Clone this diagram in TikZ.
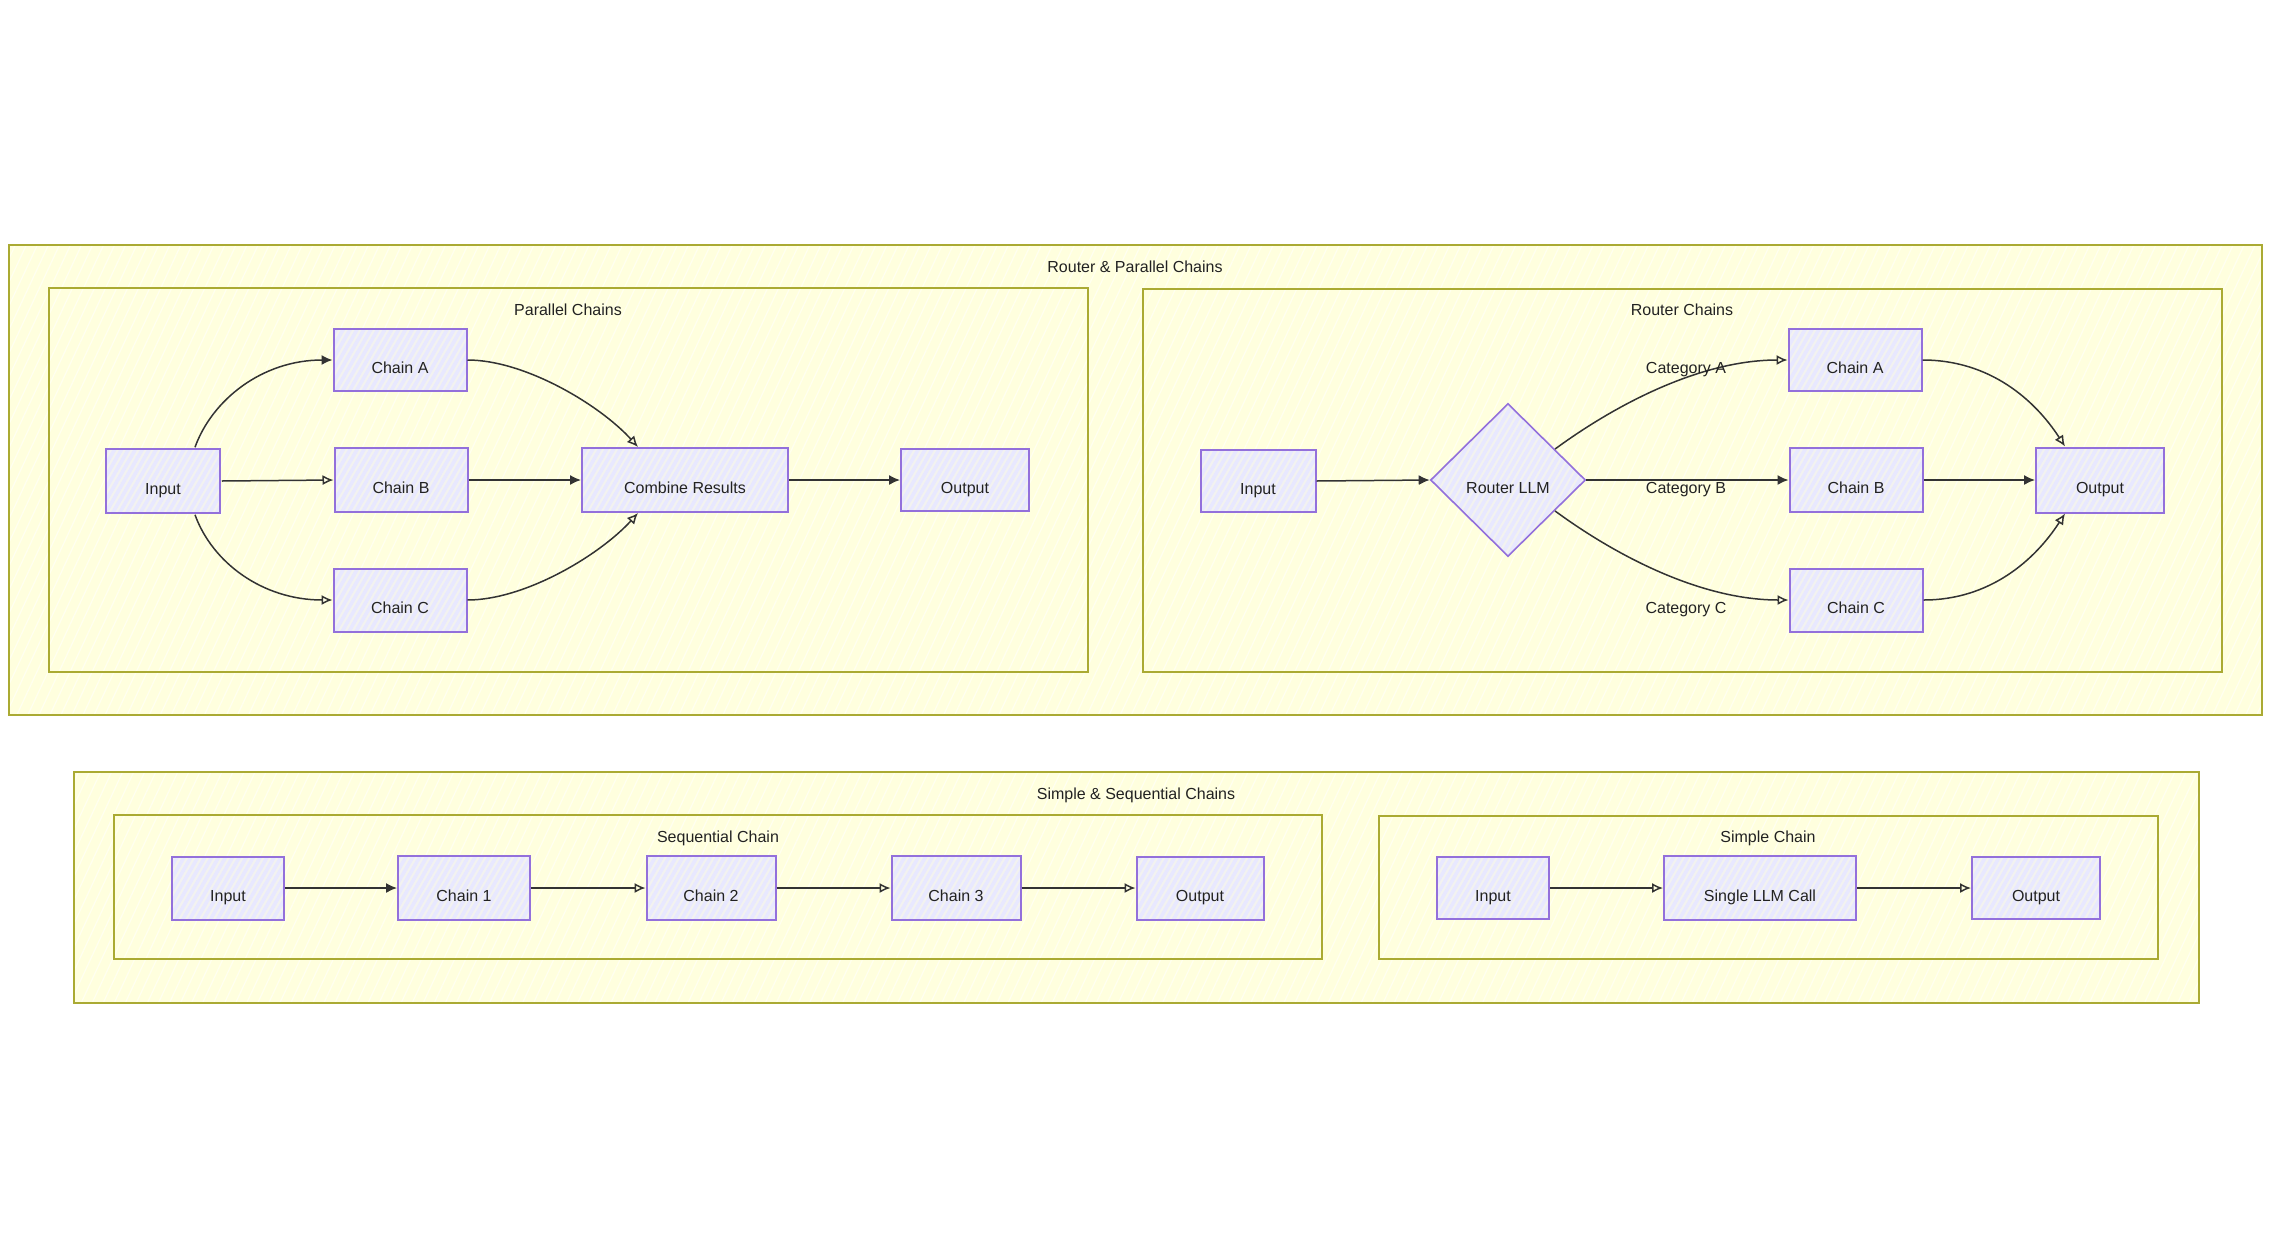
\documentclass[tikz,border=0pt]{standalone}
\usepackage{fontspec}
\setmainfont{Liberation Sans}
\usetikzlibrary{arrows.meta,shapes.geometric,calc,patterns.meta}
\definecolor{clfill}{HTML}{FFFFDE}
\definecolor{clline}{HTML}{AAAA33}
\definecolor{ndline}{HTML}{9370DB}
\definecolor{ndfill}{HTML}{E8E8FF}
\definecolor{ndbase}{HTML}{F2F2F0}
\definecolor{edgecol}{HTML}{333333}
\definecolor{txtcol}{HTML}{222222}
\begin{document}
\begin{tikzpicture}[x=1pt,y=1pt,
  lbl/.style={text=txtcol, font=\fontsize{16}{19}\selectfont},
  cluster/.style={draw=clline, line width=2pt, preaction={fill=clfill},
    pattern={Lines[angle=65,distance=10pt,line width=1.2pt]}, pattern color=white!55!clfill},
  ttl/.style={lbl, anchor=base, inner sep=0pt},
  box/.style={rectangle, draw=ndline, line width=2pt, preaction={fill=ndbase},
    pattern={Lines[angle=60,distance=6pt,line width=3.5pt]}, pattern color=ndfill,
    inner sep=0pt, lbl, text height=26pt, text depth=0pt},
  dia/.style={diamond, aspect=1, draw=ndline, line width=1.6pt, preaction={fill=ndbase},
    pattern={Lines[angle=60,distance=6pt,line width=3.5pt]}, pattern color=ndfill,
    inner sep=0pt, minimum width=155pt, minimum height=153pt, lbl, text height=26pt, text depth=0pt},
  elab/.style={lbl, inner sep=0pt, text height=26pt, text depth=0pt},
  arf/.style={draw=edgecol, line width=1.5pt, -{Latex[length=11pt,width=10pt]}},
  aro/.style={draw=edgecol, line width=1.5pt, -{Latex[open,length=11pt,width=10pt]}}
]
\useasboundingbox (0,0) rectangle (2271,-1248);
\fill[white] (0,0) rectangle (2271,-1248);

% ---------- clusters ----------
\draw[cluster] (9,-245) rectangle (2262,-715);
\node[ttl] (t_rp) at (1135,-272) {Router \& Parallel Chains};
\draw[cluster] (49,-288) rectangle (1088,-672);
\node[ttl] (t_par) at (568,-315) {Parallel Chains};
\draw[cluster] (1143,-289) rectangle (2222,-672);
\node[ttl] (t_rt) at (1682,-315) {Router Chains};

\draw[cluster] (74,-772) rectangle (2199,-1003);
\node[ttl] (t_ss) at (1136,-799) {Simple \& Sequential Chains};
\draw[cluster] (114,-815) rectangle (1322,-959);
\node[ttl] (t_seq) at (718,-842) {Sequential Chain};
\draw[cluster] (1379,-816) rectangle (2158,-959);
\node[ttl] (t_sim) at (1768,-842) {Simple Chain};

% ---------- parallel chains ----------
\node[box, minimum width=114pt, minimum height=64pt] (pin) at (163,-481) {Input};
\node[box, minimum width=133pt, minimum height=62pt] (pa) at (400,-360) {Chain A};
\node[box, minimum width=133pt, minimum height=64pt] (pb) at (401,-480) {Chain B};
\node[box, minimum width=133pt, minimum height=63pt] (pc) at (400,-600) {Chain C};
\node[box, minimum width=206pt, minimum height=64pt] (comb) at (685,-480) {Combine Results};
\node[box, minimum width=128pt, minimum height=62pt] (pout) at (965,-480) {Output};

\draw[arf] ([xshift=32pt]pin.north) .. controls (212,-400) and (262,-360) .. (pa.west);
\draw[aro] (pin.east) -- (pb.west);
\draw[aro] ([xshift=32pt]pin.south) .. controls (212,-562) and (262,-600) .. (pc.west);
\draw[aro] (pa.east) .. controls (525,-360) and (600,-405) .. ([xshift=-47pt]comb.north);
\draw[arf] (pb.east) -- (comb.west);
\draw[aro] (pc.east) .. controls (525,-600) and (600,-555) .. ([xshift=-47pt]comb.south);
\draw[arf] (comb.east) -- (pout.west);

% ---------- router chains ----------
\node[box, minimum width=115pt, minimum height=62pt] (rin) at (1258,-481) {Input};
\node[dia] (rt) at (1508,-480) {Router LLM};
\node[box, minimum width=133pt, minimum height=62pt] (ra) at (1855,-360) {Chain A};
\node[box, minimum width=133pt, minimum height=64pt] (rb) at (1856,-480) {Chain B};
\node[box, minimum width=133pt, minimum height=63pt] (rc) at (1856,-600) {Chain C};
\node[box, minimum width=128pt, minimum height=65pt] (rout) at (2100,-480) {Output};

\draw[arf] (rin.east) -- (rt.west);
\draw[aro] ($(rt.north)!0.6!(rt.east)$) .. controls (1615,-405) and (1700,-360) .. (ra.west);
\draw[arf] (rt.east) -- (rb.west);
\draw[aro] ($(rt.south)!0.6!(rt.east)$) .. controls (1615,-555) and (1700,-600) .. (rc.west);
\node[elab] (la) at (1686,-360) {Category A};
\node[elab] (lb) at (1686,-480) {Category B};
\node[elab] (lc) at (1686,-600) {Category C};
\draw[aro] (ra.east) .. controls (1990,-360) and (2035,-400) .. ([xshift=-35pt]rout.north);
\draw[arf] (rb.east) -- (rout.west);
\draw[aro] (rc.east) .. controls (1990,-600) and (2035,-560) .. ([xshift=-35pt]rout.south);

% ---------- sequential chain ----------
\node[box, minimum width=112pt, minimum height=63pt] (sin) at (228,-888) {Input};
\node[box, minimum width=132pt, minimum height=64pt] (s1) at (464,-888) {Chain 1};
\node[box, minimum width=129pt, minimum height=64pt] (s2) at (711,-888) {Chain 2};
\node[box, minimum width=129pt, minimum height=64pt] (s3) at (956,-888) {Chain 3};
\node[box, minimum width=127pt, minimum height=63pt] (sout) at (1200,-888) {Output};
\draw[arf] (sin.east) -- (s1.west);
\draw[aro] (s1.east) -- (s2.west);
\draw[aro] (s2.east) -- (s3.west);
\draw[aro] (s3.east) -- (sout.west);

% ---------- simple chain ----------
\node[box, minimum width=112pt, minimum height=62pt] (qin) at (1493,-888) {Input};
\node[box, minimum width=192pt, minimum height=64pt] (qllm) at (1760,-888) {Single LLM Call};
\node[box, minimum width=128pt, minimum height=62pt] (qout) at (2036,-888) {Output};
\draw[aro] (qin.east) -- (qllm.west);
\draw[aro] (qllm.east) -- (qout.west);
\end{tikzpicture}
\end{document}
